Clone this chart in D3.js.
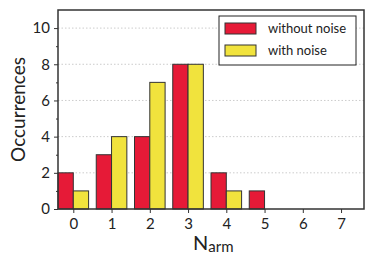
<!DOCTYPE html>
<html>
<head>
<meta charset="utf-8">
<script src="https://cdn.jsdelivr.net/npm/d3@7"></script>
<style>
  body { margin: 0; background: #fff; }
  text { font-family: Lato, "DejaVu Sans", sans-serif; fill: #222; }
</style>
</head>
<body>
<div id="chart"></div>
<script>
const armCounts = [0, 1, 2, 3, 4, 5, 6, 7];
const withoutNoise = [2, 3, 4, 8, 2, 1, 0, 0];
const withNoise = [1, 4, 7, 8, 1, 0, 0, 0];
const yTicks = [0, 2, 4, 6, 8, 10];
const yMinorTicks = [1, 3, 5, 7, 9];
const seriesNames = ["without noise", "with noise"];
const seriesColors = ["#e61a37", "#f1e33d"];

const W = 374, H = 267;
const margin = { top: 10, right: 10, bottom: 58, left: 58 };
const width = W - margin.left - margin.right,
  height = H - margin.top - margin.bottom;

const svg = d3.select("#chart").append("svg")
  .attr("width", W).attr("height", H)
  .append("g")
  .attr("transform", `translate(${margin.left}, ${margin.top})`);

const x = d3.scaleLinear().domain([-0.4, 7.6]).range([0, width]);
const y = d3.scaleLinear().domain([0, 11]).range([height, 0]);
const barW = 0.4;

// grid lines (dotted)
svg.append("g")
  .selectAll("line")
  .data(yTicks.filter(d => d > 0))
  .join("line")
  .attr("x1", 0).attr("x2", width)
  .attr("y1", d => y(d)).attr("y2", d => y(d))
  .attr("stroke", "#ccc")
  .attr("stroke-dasharray", "1.5,2");

// bars
const series = [withoutNoise, withNoise];
series.forEach((vals, s) => {
  svg.append("g")
    .selectAll("rect")
    .data(armCounts)
    .join("rect")
    .attr("x", d => x(d - barW + s * barW))
    .attr("width", x(barW) - x(0))
    .attr("y", (d, i) => y(vals[i]))
    .attr("height", (d, i) => y(0) - y(vals[i]))
    .attr("fill", seriesColors[s])
    .attr("stroke", "#333")
    .attr("stroke-width", 1);
});

// axes
const yAxis = svg.append("g")
  .call(d3.axisLeft(y).tickValues(yTicks).tickSize(4).tickPadding(4).tickSizeOuter(0));
svg.append("g")
  .call(d3.axisLeft(y).tickValues(yMinorTicks).tickSize(2).tickFormat("").tickSizeOuter(0))
  .selectAll("line").attr("stroke", "#333");
const xAxis = svg.append("g")
  .attr("transform", `translate(0, ${height})`)
  .call(d3.axisBottom(x).tickValues(armCounts).tickFormat(d3.format("d")).tickSize(4).tickPadding(5).tickSizeOuter(0));

[yAxis, xAxis].forEach(a => {
  a.selectAll("text").style("font-size", "15px").style("font-family", "Lato");
  a.selectAll("line").attr("stroke", "#333");
});
svg.selectAll(".domain").remove();

// frame
svg.append("rect")
  .attr("width", width).attr("height", height)
  .attr("fill", "none")
  .attr("stroke", "#333")
  .attr("stroke-width", 1.5);

// axis labels
svg.append("text")
  .attr("transform", `translate(${-33}, ${height / 2}) rotate(-90)`)
  .attr("text-anchor", "middle")
  .style("font-size", "19px")
  .text("Occurrences");

const xl = svg.append("text")
  .attr("x", 135)
  .attr("y", height + 41)
  .style("font-size", "20px");
xl.append("tspan").text("N");
xl.append("tspan").attr("dy", 2).style("font-size", "15px").text("arm");

// legend
const lg = svg.append("g").attr("transform", `translate(${161}, ${6})`);
lg.append("rect")
  .attr("width", 137).attr("height", 49)
  .attr("fill", "#fff")
  .attr("stroke", "#222")
  .attr("stroke-width", 1);
seriesNames.forEach((name, i) => {
  lg.append("rect")
    .attr("x", 6).attr("y", 7 + i * 22)
    .attr("width", 31).attr("height", 11)
    .attr("fill", seriesColors[i])
    .attr("stroke", "#333");
  lg.append("text")
    .attr("x", 49).attr("y", 17 + i * 22)
    .style("font-size", "13px")
    .text(name);
});
</script>
</body>
</html>
